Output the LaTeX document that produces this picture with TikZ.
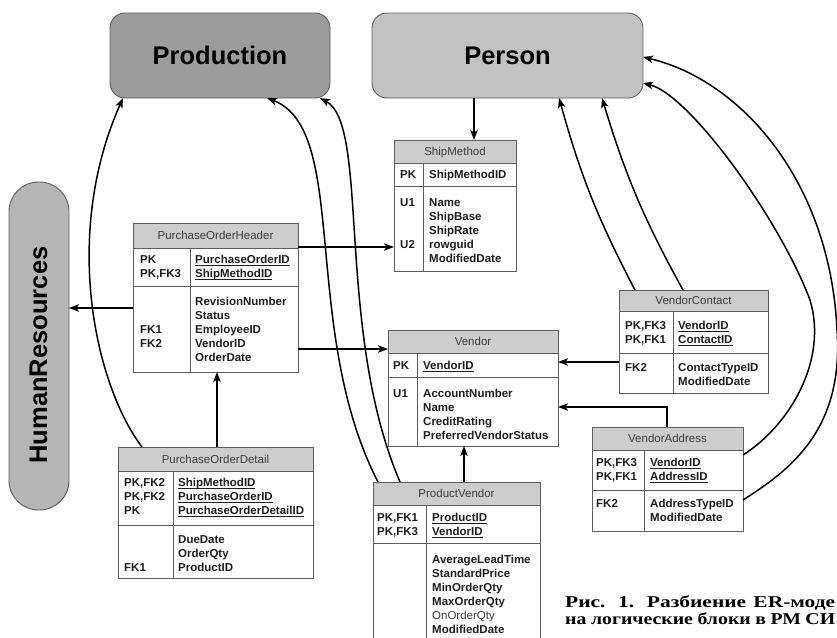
\documentclass[tikz,border=0pt]{standalone}
\usepackage{fontspec}
\setmainfont{Liberation Sans}
\newfontfamily\capfont[FakeStretch=1.2]{Liberation Serif}
\newfontfamily\capwidefont[FakeStretch=1.3]{Liberation Serif}
\usetikzlibrary{arrows.meta,calc}

\definecolor{prodgray}{HTML}{9C9C9C}
\definecolor{persgray}{HTML}{C2C2C2}
\definecolor{hrgray}{HTML}{B5B5B5}
\definecolor{headgray}{HTML}{CDCDCD}
\definecolor{framegray}{HTML}{5E5E5E}
\definecolor{inkgray}{HTML}{1E1E1E}
\definecolor{titlegray}{HTML}{3C3C3C}

% key columns are underlined just under the baseline
\newsavebox\keybox
\newcommand\keyline[1]{\sbox\keybox{#1}\rlap{\rule[-2.2pt]{\wd\keybox}{0.8pt}}\usebox\keybox}

\tikzset{
  block/.style={draw=framegray, line width=0.9pt, rounded corners=15pt, inner sep=0pt, outer sep=0pt},
  blocktext/.style={font=\fontsize{25.5}{30}\selectfont\bfseries, text=black, inner sep=0pt,
                    text height=18.3pt, text depth=0pt},
  tblframe/.style={draw=framegray, line width=0.9pt, inner sep=0pt, outer sep=0pt},
  tblrule/.style={draw=framegray, line width=0.9pt},
  tbltitle/.style={font=\fontsize{11.5}{14}\selectfont, text=titlegray, inner sep=0pt,
                   text height=8.3pt, text depth=0pt},
  cell/.style={font=\fontsize{11.5}{14}\selectfont\bfseries, text=inkgray, inner sep=0pt, anchor=base west},
  link/.style={draw=black, line width=1.5pt, -{Stealth[length=10pt,width=7.5pt,inset=2.5pt]}},
  caption/.style={font=\capfont\bfseries\fontsize{16.5}{19}\selectfont, anchor=base west, inner sep=0pt},
}

% #1 name, #2 left, #3 top, #4 right, #5 bottom, #6 title bar bottom, #7 key part bottom, #8 column rule, #9 title
\newcommand\ertable[9]{%
  \fill[headgray] (#2,#3) rectangle (#4,#6);
  \draw[tblrule] (#2,#6) -- (#4,#6) (#2,#7) -- (#4,#7) (#8,#6) -- (#8,#5);
  \node[tblframe, minimum width={(#4-#2)*1pt}, minimum height={(#5-#3)*1pt}] (#1) at ({(#2+#4)/2},{(#3+#5)/2}) {};
  \node[tbltitle] (#1-title) at ({(#2+#4)/2},{(#3+#6)/2}) {#9};
}
% #1 name prefix, #2 x, #3 centre of first row, #4 extra style, #5 rows
\newcommand\cells[5]{%
  \foreach \celltext [count=\cellno from 0] in {#5}
    {\node[cell,#4] (#1\cellno) at (#2,{#3+14.1*\cellno+4.1}) {\celltext};}
}

\begin{document}
\begin{tikzpicture}[x=1pt,y=-1pt]
\useasboundingbox (0,0) rectangle (837,637);
\clip (0,0) rectangle (837,637);
\fill[white] (0,0) rectangle (837,637);

% schema blocks
\node[block, fill=prodgray, minimum width=220pt, minimum height=85pt] (prod) at (220,55.5) {};
\node[blocktext] (prod-label) at (prod.center) {Production};
\node[block, fill=persgray, minimum width=271pt, minimum height=85pt] (person) at (507.5,55.5) {};
\node[blocktext] (person-label) at (person.center) {Person};
\node[block, fill=hrgray, minimum width=60pt, minimum height=328pt, rounded corners=29.5pt] (hr) at (39,346) {};
\node[blocktext, rotate=90] (hr-label) at (38,355) {HumanResources};

% tables
\ertable{poh}{133}{223}{298}{372}{248}{286}{190}{PurchaseOrderHeader}
\cells{poh-k}{140}{259}{}{PK,{PK,FK3}}
\cells{poh-p}{195}{259}{}{{\keyline{PurchaseOrderID}},{\keyline{ShipMethodID}}}
\cells{poh-f}{140}{329}{}{FK1,FK2}
\cells{poh-a}{195}{301}{}{RevisionNumber,Status,EmployeeID,VendorID,OrderDate}

\ertable{sm}{394}{140}{516}{271}{163}{186}{423}{ShipMethod}
\cells{sm-k}{400}{174}{}{PK}
\cells{sm-p}{429}{174}{}{ShipMethodID}
\cells{sm-u}{400}{202}{}{U1}
\cells{sm-v}{400}{244}{}{U2}
\cells{sm-a}{429}{202}{}{Name,ShipBase,ShipRate,rowguid,ModifiedDate}

\ertable{vendor}{388}{330}{558}{446}{353}{377}{417}{Vendor}
\cells{vendor-k}{393}{365}{}{PK}
\cells{vendor-p}{423}{365}{}{{\keyline{VendorID}}}
\cells{vendor-u}{393}{393}{}{U1}
\cells{vendor-a}{423}{393}{}{AccountNumber,Name,CreditRating,PreferredVendorStatus}

\ertable{pod}{118}{447}{313}{578}{471}{525}{173}{PurchaseOrderDetail}
\cells{pod-k}{124}{482}{}{{PK,FK2},{PK,FK2},PK}
\cells{pod-p}{178}{482}{}{{\keyline{ShipMethodID}},{\keyline{PurchaseOrderID}},{\keyline{PurchaseOrderDetailID}}}
\cells{pod-a}{178}{539}{}{DueDate,OrderQty,ProductID}
\cells{pod-f}{124}{567}{}{FK1}

\ertable{pv}{373}{482}{540}{660}{505}{543}{426}{ProductVendor}
\cells{pv-k}{377}{517}{}{{PK,FK1},{PK,FK3}}
\cells{pv-p}{432}{517}{}{{\keyline{ProductID}},{\keyline{VendorID}}}
\cells{pv-a}{432}{559}{}{AverageLeadTime,StandardPrice,MinOrderQty,MaxOrderQty,{\textcolor{titlegray}{\mdseries OnOrderQty}},ModifiedDate}

\ertable{vc}{619}{290}{768}{393}{311}{353}{673}{VendorContact}
\cells{vc-k}{625}{325}{}{{PK,FK3},{PK,FK1}}
\cells{vc-p}{678}{325}{}{{\keyline{VendorID}},{\keyline{ContactID}}}
\cells{vc-f}{625}{367}{}{FK2}
\cells{vc-a}{678}{367}{}{ContactTypeID,ModifiedDate}

\ertable{va}{592}{427}{743}{531}{450}{490}{644}{VendorAddress}
\cells{va-k}{596}{462}{}{{PK,FK3},{PK,FK1}}
\cells{va-p}{650}{462}{}{{\keyline{VendorID}},{\keyline{AddressID}}}
\cells{va-f}{596}{503}{}{FK2}
\cells{va-a}{650}{503}{}{AddressTypeID,ModifiedDate}

% references between tables and blocks
\draw[link] (474,0 |- person.south) -- (474,0 |- sm.north);
\draw[link] (poh.east |- 0,247) -- (sm.west |- 0,247);
\draw[link] (poh.east |- 0,349) -- (vendor.west |- 0,349);
\draw[link] (poh.west |- 0,308) -- (hr.east |- 0,308);
\draw[link] (217,0 |- pod.north) -- (217,0 |- poh.south);
\draw[link] (464,0 |- pv.north) -- (464,0 |- vendor.south);
\draw[link] (vc.west |- 0,362) -- (vendor.east |- 0,362);
\draw[link] (667,0 |- va.north) |- (vendor.east |- 0,407);

\draw[link] (142,0 |- pod.north) .. controls (95,385) and (62,235) .. (123,0 |- prod.south);
\draw[link] (378,0 |- pv.north) .. controls (300,330) and (350,130) .. (267,0 |- prod.south);
\draw[link] (400,0 |- pv.north) .. controls (335,330) and (370,125) .. (320,0 |- prod.south);

\draw[link] (635,0 |- vc.north) to[bend left=6] (559,0 |- person.south);
\draw[link] (683,0 |- vc.north) to[bend left=6] (602,0 |- person.south);

\draw[link] (va.east |- 0,500) .. controls (790,470) and (844,430) .. (837,330)
                               .. controls (830,180) and (740,80) .. (person.east |- 0,57);
\draw[link] (va.east |- 0,455) .. controls (790,425) and (828,360) .. (810,300)
                               .. controls (780,220) and (690,95) .. (person.east |- 0,83);

% figure caption, justified lines
\node[caption, font=\capwidefont\bfseries\fontsize{16.5}{19}\selectfont] (cap1) at (565,607)
  {\makebox[270pt][s]{Рис. 1. Разбиение ER-моде}};
\node[caption] (cap2) at (565,624) {\makebox[270pt][s]{на логические блоки в РМ СИ}};
\end{tikzpicture}
\end{document}
